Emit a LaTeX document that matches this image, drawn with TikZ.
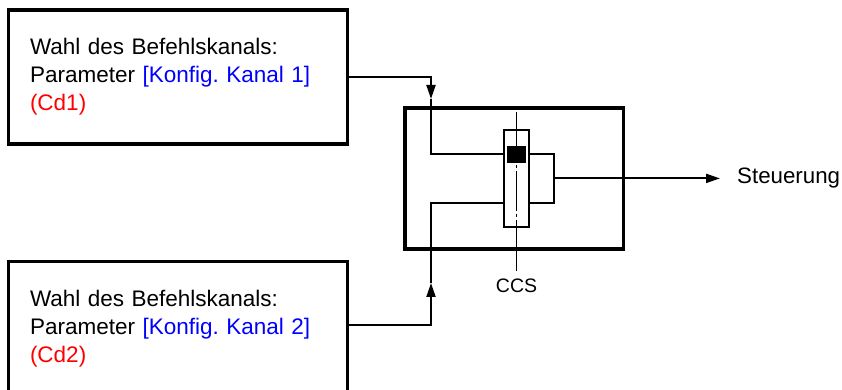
\documentclass[tikz,border=0pt]{standalone}
\usepackage{fontspec}
\setmainfont{Liberation Sans}
\usetikzlibrary{arrows.meta, positioning, calc}
\definecolor{KanalBlue}{HTML}{0000FF}
\definecolor{KanalRed}{HTML}{FF0000}
\frenchspacing

\begin{document}
\begin{tikzpicture}[
    x=1pt, y=1pt,
    chan/.style={
      rectangle, draw, line width=3.6pt, minimum width=339pt, minimum height=134pt,
      text width=296pt, inner xsep=21.5pt, align=left, font=\fontsize{22.5}{28}\selectfont
    },
    frame/.style={rectangle, draw, line width=3.6pt, minimum width=218.7pt, minimum height=141.3pt},
    switchbox/.style={rectangle, draw, line width=1.7pt, minimum width=25pt, minimum height=97pt},
    contact/.style={rectangle, fill, minimum width=19pt, minimum height=17pt, inner sep=0pt},
    wire/.style={line width=2pt},
    axis/.style={line width=1.3pt},
    arr/.style={-{Triangle[length=14pt, width=9pt]}, line width=2pt},
    lbl/.style={font=\fontsize{22.3}{26}\selectfont, inner sep=0pt}
  ]
    \path[use as bounding box, clip] (0,0) rectangle (842,390);

    \node[chan] (ch1) at (178,313.2) {Wahl des Befehlskanals:\\Parameter \textcolor{KanalBlue}{[Konfig. Kanal 1]}\\\textcolor{KanalRed}{(Cd1)}};
    \node[chan, below=114pt of ch1] (ch2) {Wahl des Befehlskanals:\\Parameter \textcolor{KanalBlue}{[Konfig. Kanal 2]}\\\textcolor{KanalRed}{(Cd2)}};

    \node[frame] (sel) at (514.3,211.6) {};
    \node[switchbox] (ccs) at (516.5,211.6) {};
    \node[contact] (blk) at ([yshift=24pt]ccs.center) {};
    \node[lbl, font=\fontsize{19.5}{24}\selectfont] (ccslbl) at (516.5,104.7) {CCS};
    \node[lbl, anchor=west] (steu) at (737,211.6) {Steuerung};

    \coordinate (in1) at ([yshift=24.5pt]ccs.west);
    \coordinate (in2) at ([yshift=-24.5pt]ccs.west);
    \coordinate (out1) at ([yshift=24.5pt]ccs.east);
    \coordinate (out2) at ([yshift=-24.5pt]ccs.east);
    \coordinate (jn) at ([xshift=24pt]ccs.east);
    \coordinate (tip1) at (431,291);
    \coordinate (tip2) at (431,107);

    \draw[axis] ([yshift=17pt]ccs.north) -- (blk.north);
    \draw[axis, dash pattern=on 40pt off 3pt on 3pt off 3pt, dash phase=41pt] (blk.south) -- (ccs.south);
    \draw[axis] (ccs.south) -- ++(0,-43);

    \draw[arr] (ch1.east) -| (tip1);
    \draw[wire] (tip1) |- (in1);
    \draw[arr] ([yshift=3pt]ch2.east) -| (tip2);
    \draw[wire] (tip2) |- (in2);
    \draw[wire] (out1) -| (jn) |- (out2);
    \draw[arr] (jn) -- ([xshift=-17pt]steu.west);
  \end{tikzpicture}
\end{document}
